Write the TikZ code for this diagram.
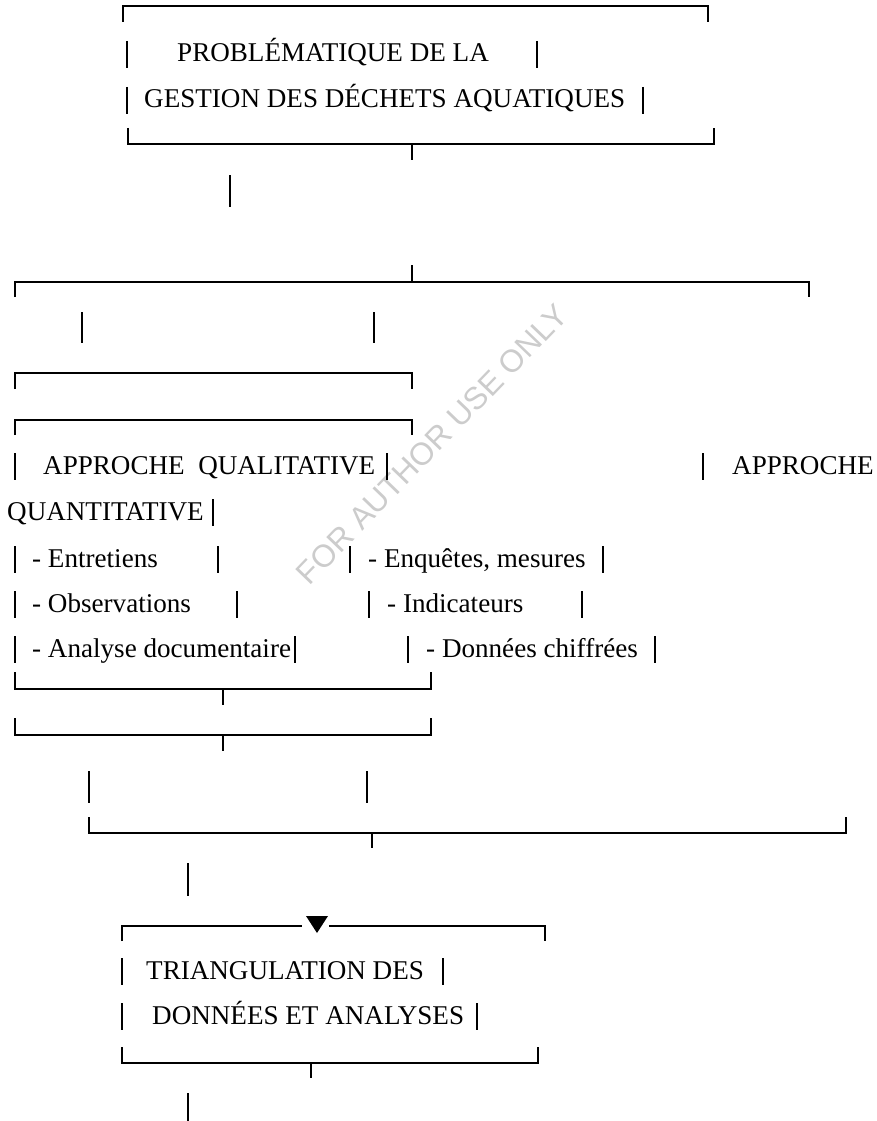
\documentclass[tikz,border=0pt]{standalone}
\usepackage{fontspec}
\setmainfont{Liberation Serif}
\newfontfamily\wmfont{Liberation Sans}
% vertical bar of a text row, given its x and the row's baseline
\newcommand\vbar[2]{\draw[bar] (#1,#2-21) -- (#1,#2+6);}
\begin{document}
\begin{tikzpicture}[x=1pt,y=-1pt,
  rule/.style={line width=1.9pt},
  bar/.style={line width=1.6pt},
  lbl/.style={anchor=base west, inner sep=0pt, font=\fontsize{27.1}{30}\selectfont},
]
\useasboundingbox (0,0) rectangle (877,1121);

% watermark
\node[rotate=46, text=gray!40, font=\wmfont\fontsize{31.5}{31.5}\selectfont] (wm) at (432,444) {FOR AUTHOR USE ONLY};

% problem statement box
\draw[rule] (123,22) -- (123,6) -- (708,6) -- (708,22);
\vbar{127}{62} \node[lbl] (t1) at (177,62) {PROBLÉMATIQUE DE LA}; \vbar{537}{62}
\vbar{127}{108} \node[lbl] (t2) at (144,108) {GESTION DES DÉCHETS AQUATIQUES}; \vbar{643}{108}
\draw[rule] (128,128) -- (128,144) -- (714,144) -- (714,128);
\draw[rule] (412,144) -- (412,160);
\draw[bar] (230,175) -- (230,207);

% split
\draw[rule] (412,265) -- (412,282);
\draw[rule] (15,297) -- (15,282) -- (809,282) -- (809,297);
\draw[bar] (82,312) -- (82,343);
\draw[bar] (374,312) -- (374,343);
\draw[rule] (15,389) -- (15,373) -- (412,373) -- (412,389);
\draw[rule] (15,435) -- (15,420) -- (412,420) -- (412,435);

% approaches
\vbar{15}{474} \node[lbl] (qual) at (43,474) {APPROCHE\ \ QUALITATIVE}; \vbar{387}{474}
\vbar{703}{474} \node[lbl] (quan1) at (732,474) {APPROCHE};
\node[lbl] (quan2) at (7,520) {QUANTITATIVE}; \vbar{213}{520}

\vbar{15}{567} \node[lbl] (a1) at (32,567) {- Entretiens}; \vbar{218}{567}
\vbar{350}{567} \node[lbl] (b1) at (368,567) {- Enquêtes, mesures}; \vbar{603}{567}
\vbar{15}{612} \node[lbl] (a2) at (32,612) {- Observations}; \vbar{237}{612}
\vbar{369}{612} \node[lbl] (b2) at (387,612) {- Indicateurs}; \vbar{582}{612}
\vbar{15}{657} \node[lbl] (a3) at (32,657) {- Analyse documentaire}; \vbar{295}{657}
\vbar{408}{657} \node[lbl] (b3) at (426,657) {- Données chiffrées}; \vbar{655}{657}

% merge
\draw[rule] (15,672) -- (15,689) -- (431,689) -- (431,672);
\draw[rule] (223,689) -- (223,705);
\draw[rule] (15,718) -- (15,735) -- (431,735) -- (431,718);
\draw[rule] (223,735) -- (223,751);
\draw[bar] (89,771) -- (89,803);
\draw[bar] (367,771) -- (367,803);
\draw[rule] (89,817) -- (89,833) -- (846,833) -- (846,817);
\draw[rule] (372,833) -- (372,848);
\draw[bar] (188,863) -- (188,896);

% triangulation box
\draw[rule] (122,941) -- (122,926) -- (302,926);
\draw[rule] (329,926) -- (545,926) -- (545,941);
\fill (306,916) -- (328,916) -- (317,933) -- cycle;
\vbar{122}{979} \node[lbl] (t3) at (146,979) {TRIANGULATION DES}; \vbar{443}{979}
\vbar{122}{1024} \node[lbl] (t4) at (152,1024) {DONNÉES ET ANALYSES}; \vbar{477}{1024}
\draw[rule] (122,1047) -- (122,1063) -- (538,1063) -- (538,1047);
\draw[rule] (311,1063) -- (311,1078);
\draw[bar] (188,1093) -- (188,1121);
\end{tikzpicture}
\end{document}
